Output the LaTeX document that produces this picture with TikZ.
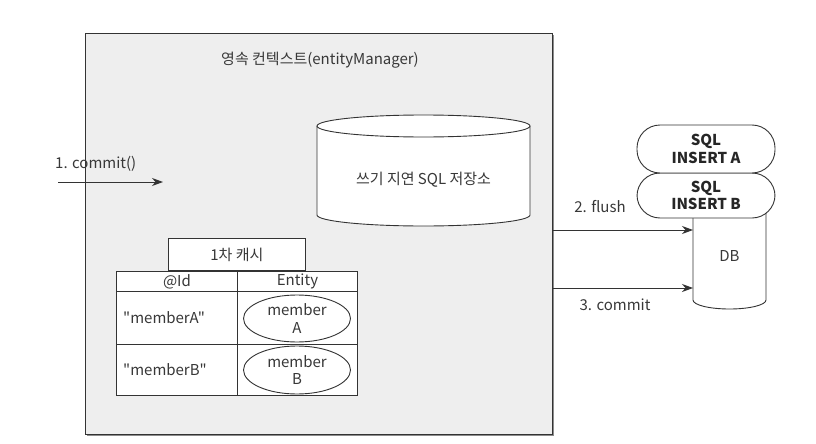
\documentclass[tikz,border=0pt]{standalone}
\usepackage{fontspec}
\setmainfont{Noto Sans CJK KR}[Ligatures=TeXOff]
\usetikzlibrary{arrows.meta,shapes.geometric,shadows}
\definecolor{ln}{HTML}{333333}
\definecolor{tx}{HTML}{383838}
\definecolor{ctxfill}{HTML}{EEEEEE}
\begin{document}
\begin{tikzpicture}[x=1pt,y=-1pt,
  font=\fontsize{15}{17.5}\selectfont,
  every node/.style={text=tx},
  arr/.style={draw=ln, line width=0.9pt, -{Stealth[length=11pt,width=8pt,inset=3.5pt]}},
  ctxbox/.style={draw=ln, line width=1pt, fill=ctxfill, inner sep=0pt,
    drop shadow={shadow xshift=1.2pt, shadow yshift=-1.6pt, fill=black!45, opacity=1}},
  cell/.style={draw=ln, line width=0.9pt, fill=white, inner sep=0pt, anchor=north west},
  pill/.style={draw=ln, line width=0.9pt, fill=white, rounded corners=23pt, align=center, inner sep=0pt,
    text=black!85, font=\fontsize{15}{17.5}\selectfont\bfseries},
  ent/.style={ellipse, draw=ln, line width=0.9pt, fill=white, inner sep=0pt, align=center},
  cyl/.style={draw=ln, line width=0.9pt, fill=white}]
\useasboundingbox (0,0) rectangle (816,444);
\fill[white] (0,0) rectangle (816,444);

% persistence context
\node[ctxbox, minimum width=467pt, minimum height=401pt, anchor=north west] (ctx) at (85,33) {};
\node (title) at (320,60) {영속 컨텍스트(entityManager)};

% 1. commit()
\coordinate (cs) at (58,182);
\coordinate (ce) at (163,182);
\draw[arr] (cs) -- (ce);
\node[anchor=west, inner sep=0pt] (commitlabel) at (55,164) {1. commit()};

% write-behind SQL store
\path[cyl] (317,126) -- (317,215) arc[start angle=180, end angle=360, x radius=106.5pt, y radius=11pt]
  -- (530,126) arc[start angle=0, end angle=180, x radius=106.5pt, y radius=11pt] -- cycle;
\draw[draw=ln, line width=0.9pt] (317,126) arc[start angle=180, end angle=360, x radius=106.5pt, y radius=11pt];
\node (store) at (423.5,180) {쓰기 지연 SQL 저장소};

% DB
\path[cyl] (693,205) -- (693,300) arc[start angle=180, end angle=360, x radius=36.5pt, y radius=9pt]
  -- (766,205) -- cycle;
\node[minimum width=73pt, minimum height=104pt, inner sep=0pt, anchor=north west] (db) at (693,205) {};
\node (dbl) at (729.5,256) {DB};

% SQL pills
\node[pill, minimum width=138pt, minimum height=45pt] (sqlb) at (706,195.5) {SQL\\INSERT B};
\node[pill, minimum width=138pt, minimum height=48pt] (sqla) at (706,149) {SQL\\INSERT A};

% flush / commit arrows
\draw[arr] (ctx.east |- 0,230) -- (db.west |- 0,230);
\draw[arr] (ctx.east |- 0,288) -- (db.west |- 0,288);
\node (flushlabel) at (600,207) {2. flush};
\node (commit3label) at (615,305) {3. commit};

% first-level cache
\node[cell, minimum width=137pt, minimum height=32pt] (tab) at (168,238) {1차 캐시};
\node[cell, minimum width=121pt, minimum height=20pt] (hid) at (116,271) {@Id};
\node[cell, minimum width=120pt, minimum height=20pt] (hent) at (237,271) {Entity};
\node[cell, minimum width=121pt, minimum height=53pt] (r1id) at (116,291) {};
\node[cell, minimum width=120pt, minimum height=53pt] (r1ent) at (237,291) {};
\node[cell, minimum width=121pt, minimum height=51pt] (r2id) at (116,344) {};
\node[cell, minimum width=120pt, minimum height=51pt] (r2ent) at (237,344) {};
\node[anchor=west, inner sep=0pt] (ida) at (123,318) {"memberA"};
\node[anchor=west, inner sep=0pt] (idb) at (123,370) {"memberB"};
\node[ent, minimum width=107pt, minimum height=47pt] (ma) at (297,318.5) {member\\A};
\node[ent, minimum width=107pt, minimum height=48pt] (mb) at (297,370) {member\\B};
\end{tikzpicture}
\end{document}
